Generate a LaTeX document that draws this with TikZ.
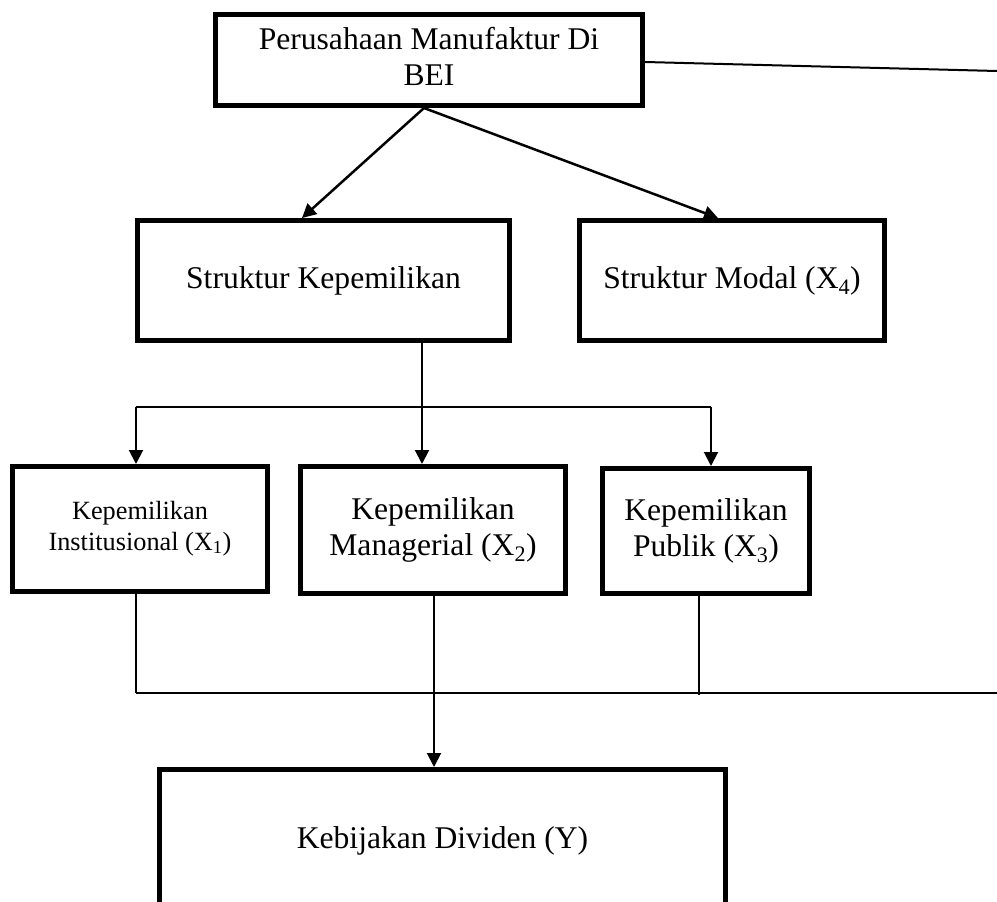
\documentclass[tikz,border=0pt]{standalone}
\usepackage{fontspec}
\setmainfont{Liberation Serif}
\usetikzlibrary{arrows.meta,calc}
\newcommand{\fbig}{\fontsize{31.6}{36}\selectfont}
\newcommand{\fsml}{\fontsize{26.3}{30.2}\selectfont}
\newcommand{\twol}[2]{\begin{tabular}{@{}c@{}}#1\\#2\end{tabular}}
\begin{document}
\begin{tikzpicture}[x=1pt,y=-1pt,
  box/.style={draw=black, line width=5pt, inner sep=0pt, align=center, font=\fbig},
  conn/.style={draw=black, line width=2.5pt},
  ln/.style={draw=black, line width=2pt},
  thinln/.style={draw=black, line width=1.5pt},
  arr/.style={ln, -{Triangle[length=14pt,width=14pt]}},
  arrd/.style={conn, -{Triangle[length=14pt,width=14pt]}}]
\clip (0,0) rectangle (997,902);
\fill[white] (0,0) rectangle (997,902);

% boxes
\node[box, minimum width=427pt, minimum height=91pt] (top) at (429,60)
  {\raisebox{-8pt}{\twol{Perusahaan Manufaktur Di}{BEI}}};
\node[box, minimum width=372pt, minimum height=120pt] (sk) at (323.5,280.5)
  {\raisebox{-4pt}{Struktur Kepemilikan}};
\node[box, minimum width=305pt, minimum height=120pt] (modal) at (732,280.5)
  {\raisebox{-4pt}{Struktur Modal (X\textsubscript{4})}};
\node[box, minimum width=255pt, minimum height=125pt, font=\fsml] (inst) at (140,529)
  {\raisebox{-3pt}{\twol{Kepemilikan}{Institusional (X\textsubscript{1})}}};
\node[box, minimum width=265pt, minimum height=127pt] (man) at (433,530)
  {\raisebox{-3pt}{\twol{Kepemilikan}{Managerial (X\textsubscript{2})}}};
\node[box, minimum width=207pt, minimum height=125pt] (pub) at (706,531)
  {\raisebox{-3pt}{\twol{Kepemilikan}{Publik (X\textsubscript{3})}}};
\node[box, minimum width=566pt, minimum height=142pt] (keb) at (442.5,840.5)
  {\raisebox{-2pt}{Kebijakan Dividen (Y)}};

% top connectors
\coordinate (edgeT) at (997,71);
\draw[arrd] ([xshift=-5pt]top.south) -- ([xshift=-21.5pt]sk.north);
\draw[arrd] ([xshift=-5pt]top.south) -- ([xshift=-14pt]modal.north);
\draw[ln] ([yshift=-2pt]top.east) -- (edgeT);

% middle branching
\coordinate (jn) at (422,407);
\coordinate (bl) at (136,407);
\coordinate (br) at (711,407);
\draw[arr] (jn |- sk.south) -- (jn |- man.north);
\draw[ln] (bl) -- (br);
\draw[arr] (bl) -- (bl |- inst.north);
\draw[arr] (br) -- (br |- pub.north);

% bottom
\coordinate (dl) at (136,693);
\coordinate (dr) at (997,693);
\coordinate (pb) at (699,695);
\draw[thinln] (dl |- inst.south) -- (dl);
\draw[ln] (dl) -- (dr);
\draw[thinln] (pb |- pub.south) -- (pb);
\draw[arr] ([xshift=1pt]man.south) -- ([xshift=1pt]man.south |- keb.north);
\end{tikzpicture}
\end{document}
